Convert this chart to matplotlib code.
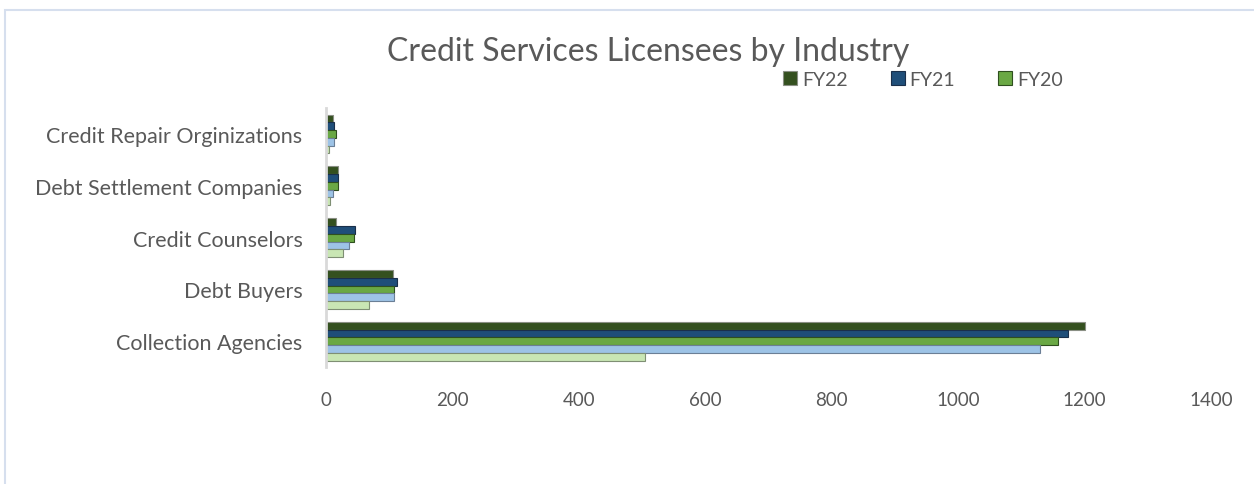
import matplotlib.pyplot as plt
import matplotlib.patches as patches
import numpy as np

plt.rcParams['font.family'] = ['Lato', 'DejaVu Sans']

categories = ['Collection Agencies', 'Debt Buyers', 'Credit Counselors',
              'Debt Settlement Companies', 'Credit Repair Orginizations']
series = ['FY22', 'FY21', 'FY20', 'FY19', 'FY18']
fy22 = [1200, 106, 16, 19, 11]
fy21 = [1174, 112, 46, 19, 13]
fy20 = [1158, 108, 44, 19, 16]
fy19 = [1130, 108, 36, 11, 13]
fy18 = [505, 68, 27, 6, 4]
values = [fy22, fy21, fy20, fy19, fy18]

colors = ['#34501f', '#1f4e79', '#6aa844', '#9dc3e6', '#c9e6b4']
edges = ['#8a8f84', '#1a2f4a', '#2f4f1f', '#6b7f96', '#7f8f74']

fig = plt.figure(figsize=(12.54, 4.85), dpi=100)
ax = fig.add_axes([0.26, 0.241, 0.7057, 0.534])

# outer chart frame
fig.patches.append(patches.Rectangle((0.004, -0.1), 1.2, 1.077, transform=fig.transFigure,
                                     fill=False, edgecolor='#d6dfee', linewidth=1.5))

y = np.arange(len(categories))
h = 0.15
for i, (name, vals) in enumerate(zip(series, values)):
    off = (2 - i) * h
    ax.barh(y + off, vals, height=h, color=colors[i], edgecolor=edges[i],
            linewidth=0.8, label=name)

ax.set_xlim(0, 1400)
ax.set_ylim(-0.5, 4.5)
ax.set_yticks(y)
ax.set_yticklabels(categories, fontsize=15.5, color='#595959')
ax.set_xticks(np.arange(0, 1401, 200))
ax.tick_params(axis='x', labelsize=13.5, labelcolor='#595959', length=0, pad=17)
ax.tick_params(axis='y', length=0, pad=17)
for s in ['top', 'right', 'bottom']:
    ax.spines[s].set_visible(False)
ax.spines['left'].set_color('#d9d9d9')
ax.spines['left'].set_linewidth(2)

fig.text(0.517, 0.893, 'Credit Services Licensees by Industry', ha='center', va='center',
         fontsize=23, color='#595959')

handles, labels = ax.get_legend_handles_labels()
leg = fig.legend(handles[:3], labels[:3], loc='center left', bbox_to_anchor=(0.6105, 0.835),
                 ncol=3, frameon=False, fontsize=14, handlelength=0.72, handleheight=0.72,
                 columnspacing=2.2, handletextpad=0.26)
for t in leg.get_texts():
    t.set_color('#595959')

fig.savefig('out.png', dpi=100)
